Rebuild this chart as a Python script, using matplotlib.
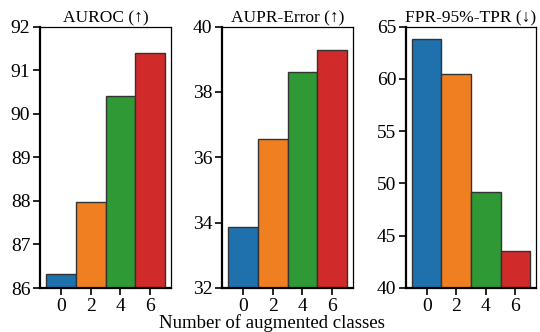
import matplotlib
matplotlib.use("Agg")
import matplotlib.pyplot as plt

plt.rcParams["font.family"] = ["Liberation Serif", "DejaVu Serif"]
plt.rcParams["font.size"] = 12

classes = ["0", "2", "4", "6"]
auroc = [86.31, 87.97, 90.40, 91.40]
aupr_err = [33.86, 36.56, 38.62, 39.27]
fpr95 = [63.83, 60.48, 49.21, 43.50]

titles = ["AUROC (\u2191)", "AUPR-Error (\u2191)", "FPR-95%-TPR (\u2193)"]
series = [auroc, aupr_err, fpr95]
ylims = [(86, 92), (32, 40), (40, 65)]
yticks = [range(86, 93), range(32, 41, 2), range(40, 66, 5)]
colors = ["#1f71ae", "#f07f22", "#2f9a35", "#d02a2a"]

fig = plt.figure(figsize=(5.4, 3.32), dpi=100)
lefts = [40, 222, 406]
rights = [171, 353, 536]
bottom, top = 1 - 288 / 332, 1 - 26.5 / 332

for i in range(3):
    ax = fig.add_axes([lefts[i] / 540, bottom, (rights[i] - lefts[i]) / 540, top - bottom])
    ax.bar(range(len(classes)), series[i], width=1.0, bottom=0,
           color=colors, edgecolor="#333333", linewidth=1.0)
    ax.set_xticks(range(len(classes)))
    ax.set_xticklabels(classes)
    ax.set_xlim(-0.7, 3.7)
    ax.set_ylim(*ylims[i])
    ax.set_yticks(list(yticks[i]))
    ax.set_title(titles[i], fontsize=12.5, pad=3)
    for side in ["left", "bottom"]:
        ax.spines[side].set_linewidth(1.6)
    for side in ["top", "right"]:
        ax.spines[side].set_linewidth(0.9)
    ax.tick_params(axis="both", direction="out", length=5, width=1.2, labelsize=14, pad=2)

fig.text(272 / 540, 0.0, "Number of augmented classes", ha="center", va="bottom", fontsize=13.5)

fig.savefig("out.png", dpi=100)
